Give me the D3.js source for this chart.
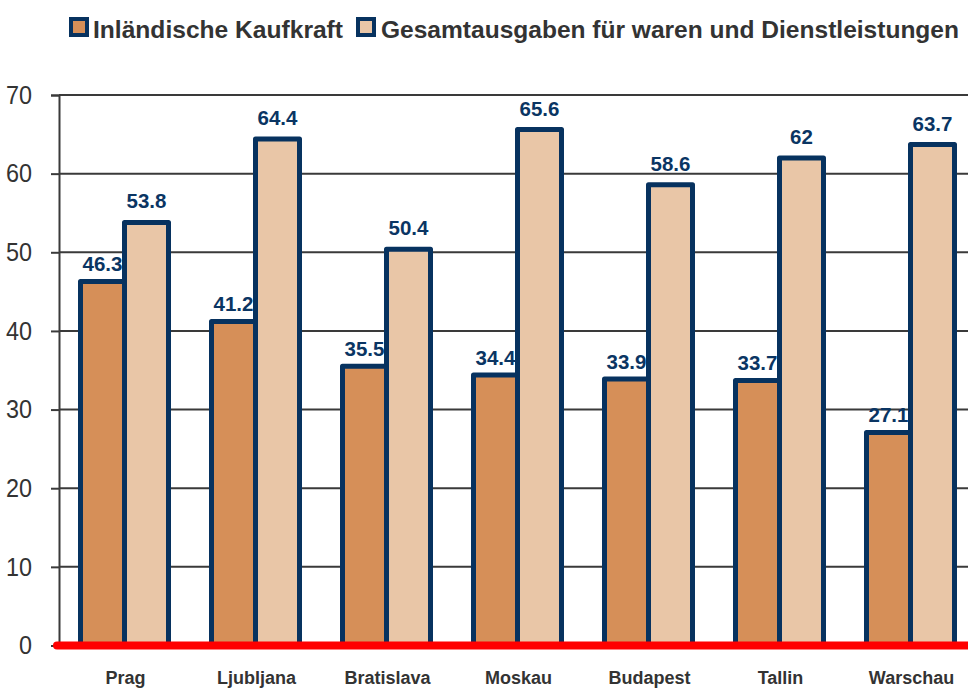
<!DOCTYPE html>
<html><head><meta charset="utf-8">
<script src="https://cdn.jsdelivr.net/npm/d3@7"></script>
<style>body{margin:0;background:#fff;} svg{display:block;}</style>
</head><body>
<svg id="c" width="968" height="689"></svg>
<script>
const categories = ["Prag","Ljubljana","Bratislava","Moskau","Budapest","Tallin","Warschau"];
const kaufkraft = [46.3, 41.2, 35.5, 34.4, 33.9, 33.7, 27.1];
const gesamtausgaben = [53.8, 64.4, 50.4, 65.6, 58.6, 62, 63.7];
const seriesNames = ["Inländische Kaufkraft", "Gesamtausgaben für waren und Dienstleistungen"];
const yTicks = [0,10,20,30,40,50,60,70];

const colors = ["#d68f58", "#e9c6a7"];
const navy = "#07325f";
const font = "Liberation Sans, Arial, sans-serif";
const svg = d3.select("#c");

const x = d3.scaleBand().domain(categories).range([59, 59 + 131*7]).paddingInner(0).paddingOuter(0);
const y = d3.scaleLinear().domain([0,70]).range([645.5, 95]);
const barW = 44;

// gridlines
svg.append("g").selectAll("line").data(yTicks.filter(d=>d>0)).join("line")
  .attr("x1", 59).attr("x2", 968)
  .attr("y1", d=>y(d)).attr("y2", d=>y(d))
  .attr("stroke", "#3a3a3a").attr("stroke-width", 2);

// y axis
const yAxis = d3.axisLeft(y).tickValues(yTicks).tickSize(8).tickPadding(19).tickFormat(d3.format("d"));
const ga = svg.append("g").attr("transform","translate(59,0)").call(yAxis);
ga.select(".domain").attr("stroke","#3a3a3a").attr("stroke-width",2);
ga.selectAll(".tick line").attr("stroke","#3a3a3a").attr("stroke-width",2);
ga.selectAll(".tick text").attr("fill","#333").attr("font-family",font).attr("font-size",26)
  .attr("textLength", d => String(d).length*13).attr("lengthAdjust","spacingAndGlyphs");

const series = [kaufkraft, gesamtausgaben];
series.forEach((vals, si) => {
  const g = svg.append("g");
  g.selectAll("rect").data(categories).join("rect")
    .attr("x", d => x(d) + x.bandwidth()/2 - barW + si*barW)
    .attr("width", barW)
    .attr("y", (d,i) => y(vals[i]))
    .attr("height", (d,i) => y(0) - y(vals[i]))
    .attr("fill", colors[si]).attr("stroke", navy).attr("stroke-width", 5)
    .attr("stroke-linejoin","round");
});
const labelGap = [10, 14];
series.forEach((vals, si) => {
  svg.append("g").selectAll("text").data(categories).join("text")
    .attr("x", d => x(d) + x.bandwidth()/2 - barW/2 + si*barW)
    .attr("y", (d,i) => y(vals[i]) - labelGap[si])
    .attr("text-anchor","middle")
    .attr("fill", "#0a3563").attr("font-weight","bold")
    .attr("font-family",font).attr("font-size",20.5)
    .text((d,i) => vals[i]);
});

// red baseline
svg.append("line").attr("x1", 57).attr("x2", 972).attr("y1", y(0)).attr("y2", y(0))
  .attr("stroke", "#ff0000").attr("stroke-width", 8).attr("stroke-linecap","round");

// category labels
svg.append("g").selectAll("text").data(categories).join("text")
  .attr("x", d => x(d) + x.bandwidth()/2 + 1)
  .attr("y", 684)
  .attr("text-anchor","middle").attr("fill","#333").attr("font-weight","bold")
  .attr("font-family",font).attr("font-size",18)
  .text(d=>d);

// legend
const legendX = [69, 356];
const legendTextX = [93, 381];
const legendTextW = [250, 578];
seriesNames.forEach((n, i) => {
  svg.append("rect").attr("x", legendX[i]+2).attr("y", 19).attr("width", 16).attr("height", 16)
    .attr("fill", colors[i]).attr("stroke", navy).attr("stroke-width", 4);
  svg.append("text").attr("x", legendTextX[i]).attr("y", 38)
    .attr("fill","#333").attr("font-weight","bold")
    .attr("font-family",font).attr("font-size",24)
    .attr("textLength", legendTextW[i]).attr("lengthAdjust","spacingAndGlyphs")
    .text(n);
});
</script>
</body></html>
